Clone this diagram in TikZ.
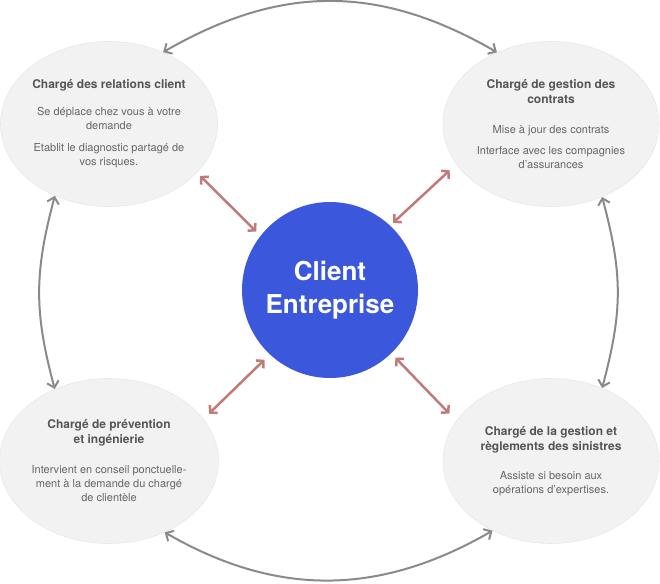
\documentclass[tikz,border=0pt]{standalone}
\usepackage{fontspec}
\setmainfont{TeX Gyre Heros}
\usetikzlibrary{arrows.meta, shapes.geometric}
\definecolor{clientblue}{HTML}{3B58DD}
\definecolor{rolefill}{HTML}{F2F2F2}
\definecolor{roleline}{HTML}{E8E8E8}
\definecolor{titlegray}{HTML}{555555}
\definecolor{textgray}{HTML}{666666}
\definecolor{ringgray}{HTML}{8A8A8A}
\definecolor{linkred}{HTML}{C27A78}
\newcommand{\roletitle}[1]{{\bfseries\fontsize{12}{15}\selectfont\color{titlegray}#1}}

\begin{document}
\begin{tikzpicture}[x=1pt, y=1pt,
    role/.style={draw=roleline, line width=0.6pt, fill=rolefill, ellipse, minimum width=216pt, minimum height=165pt, inner sep=0pt, align=center, text=textgray, font=\fontsize{11}{14}\selectfont},
    clientdisc/.style={circle, fill=clientblue, minimum size=176pt, inner sep=0pt, align=center, text=white, font=\bfseries\fontsize{26}{33}\selectfont},
    ringarrow/.style={draw=ringgray, line width=2pt, {Straight Barb[length=6pt, width=12pt]}-{Straight Barb[length=6pt, width=12pt]}},
    redlink/.style={draw=linkred, line width=2.5pt, {Straight Barb[length=5pt, width=11pt]}-{Straight Barb[length=5pt, width=11pt]}}
]
\useasboundingbox (0,0) rectangle (660,-583);

% Mitte
\node[clientdisc] (client) at (330,-290) {Client\\Entreprise};

% Die vier Rollen
\node[role] (relation) at (109,-124) {\roletitle{Chargé des relations client}\\[13pt]Se déplace chez vous à votre\\demande\\[8pt]Etablit le diagnostic partagé de\\vos risques.};
\node[role] (contrats) at (551,-124) {\roletitle{Chargé de gestion des}\\[1pt]\roletitle{contrats}\\[16pt]Mise à jour des contrats\\[7pt]Interface avec les compagnies\\d’assurances};
\node[role] (prevention) at (109,-461) {\roletitle{Chargé de prévention}\\[1pt]\roletitle{et ingénierie}\\[16pt]Intervient en conseil ponctuelle-\\ment à la demande du chargé\\de clientèle};
\node[role] (sinistres) at (551,-461) {\roletitle{Chargé de la gestion et}\\[1pt]\roletitle{règlements des sinistres}\\[15pt]Assiste si besoin aux\\opérations d’expertises.};

% Kreislauf aussen
\draw[ringarrow] (relation.53) .. controls +(30:136) and +(150:136) .. (contrats.127);
\draw[ringarrow] (contrats.-55) .. controls +(-75:80) and +(75:80) .. (sinistres.55);
\draw[ringarrow] (prevention.-52) .. controls +(-30:130) and +(210:130) .. (sinistres.230);
\draw[ringarrow] (relation.233) .. controls +(255:80) and +(105:80) .. (prevention.127);

% Verbindungen zum Kunden
\draw[redlink, shorten <=4.5pt, shorten >=6pt] (relation.-29) -- (client.142);
\draw[redlink, shorten <=9pt, shorten >=4pt] (contrats.203) -- (client.47);
\draw[redlink, shorten <=7.5pt, shorten >=7.5pt] (client.227) -- (prevention.24);
\draw[redlink, shorten <=6pt, shorten >=10pt] (client.-46) -- (sinistres.157);

\end{tikzpicture}
\end{document}
